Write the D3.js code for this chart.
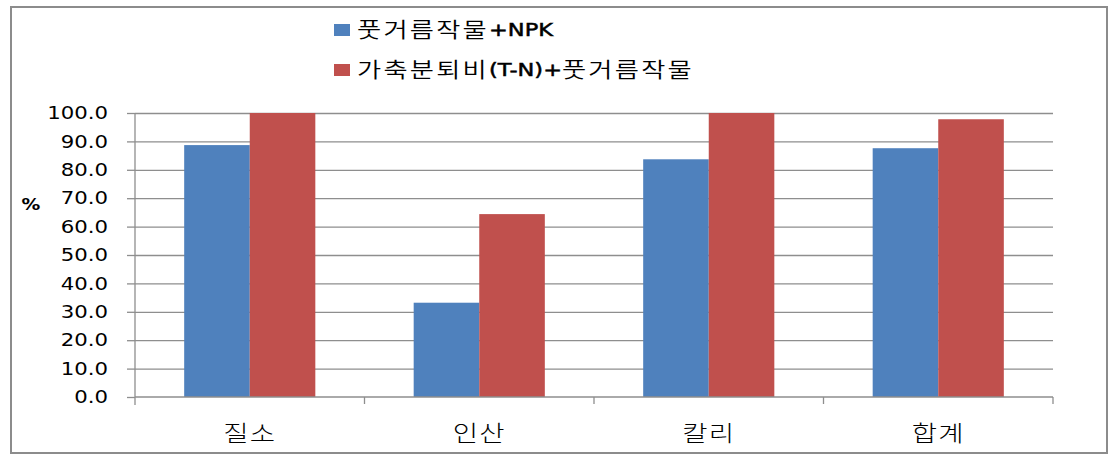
<!DOCTYPE html>
<html>
<head>
<meta charset="utf-8">
<script src="https://cdn.jsdelivr.net/npm/d3@7"></script>
<style>
  body { margin: 0; background: #fff; }
  text { font-family: "DejaVu Sans", "Noto Sans CJK KR", sans-serif; fill: #000; }
</style>
</head>
<body>
<div id="chart"></div>
<script>
// data
const categories = ['질소', '인산', '칼리', '합계'];
const seriesNames = ['풋거름작물+NPK', '가축분퇴비(T-N)+풋거름작물'];
const greenNpk = [88.7, 33.2, 83.7, 87.6];
const manureGreen = [100.0, 64.4, 100.0, 97.8];
const yTicks = [0, 10, 20, 30, 40, 50, 60, 70, 80, 90, 100];
const colors = ['#4F81BD', '#C0504D'];

const W = 1117, H = 470;
const margin = { top: 113, right: 64, bottom: 73, left: 135 },
  width = W - margin.left - margin.right,
  height = H - margin.top - margin.bottom;
const sx = 1.25; // picture text is stretched horizontally

const svgRoot = d3.select('#chart').append('svg')
  .attr('width', W).attr('height', H);

// outer chart border
svgRoot.append('rect')
  .attr('x', 11).attr('y', 7).attr('width', 1096).attr('height', 446)
  .attr('fill', 'none').attr('stroke', '#8c8c8c').attr('stroke-width', 2);

const svg = svgRoot.append('g')
  .attr('transform', 'translate(' + margin.left + ',' + margin.top + ')');

const x0 = d3.scaleBand().domain(categories).range([0, width]).padding(0);
const x1 = d3.scaleBand().domain([0, 1]).range([0, x0.bandwidth()])
  .paddingInner(0).paddingOuter(0.75);
const y = d3.scaleLinear().domain([0, 100]).range([height, 0]);

// gridlines
svg.append('g')
  .call(d3.axisRight(y).tickValues(yTicks.slice(1)).tickSize(width).tickFormat(''))
  .call(g => g.select('.domain').remove())
  .call(g => g.selectAll('line').attr('stroke', '#8e8e8e').attr('stroke-width', 1.3));

// bars
const rows = categories.map((c, i) => ({ cat: c, vals: [greenNpk[i], manureGreen[i]] }));
svg.selectAll('.grp')
  .data(rows)
  .enter()
  .append('g')
  .attr('transform', d => 'translate(' + x0(d.cat) + ',0)')
  .selectAll('rect')
  .data(d => d.vals.map((v, k) => ({ k: k, v: v })))
  .enter()
  .append('rect')
  .attr('x', d => x1(d.k))
  .attr('y', d => y(d.v))
  .attr('width', x1.bandwidth())
  .attr('height', d => height - y(d.v))
  .attr('fill', d => colors[d.k]);

// y axis
const yAxis = svg.append('g')
  .call(d3.axisLeft(y).tickValues(yTicks).tickSize(8).tickFormat(d3.format('.1f')));
yAxis.select('.domain').attr('stroke', '#8e8e8e').attr('stroke-width', 1.3)
  .attr('d', 'M0,0V' + (height + 8));
yAxis.selectAll('line').attr('stroke', '#8e8e8e').attr('stroke-width', 1.3);
yAxis.selectAll('text')
  .attr('x', null).attr('dy', null)
  .attr('font-size', 17)
  .attr('text-anchor', 'end')
  .attr('dominant-baseline', 'central')
  .attr('transform', 'translate(-27,0) scale(' + sx + ',1)');

// x axis line and boundary ticks
const bounds = categories.map(c => x0(c)).concat([width]);
svg.append('line')
  .attr('x1', 0).attr('x2', width).attr('y1', height).attr('y2', height)
  .attr('stroke', '#8e8e8e').attr('stroke-width', 1.3);
svg.selectAll('.xt')
  .data(bounds.slice(1))
  .enter()
  .append('line')
  .attr('x1', d => d).attr('x2', d => d)
  .attr('y1', height).attr('y2', height + 7)
  .attr('stroke', '#8e8e8e').attr('stroke-width', 1.3);

svg.selectAll('.xl')
  .data(categories)
  .enter()
  .append('text')
  .attr('transform', d => 'translate(' + (x0(d) + x0.bandwidth() / 2) + ',' + (height + 44) + ') scale(' + sx + ',1)')
  .attr('text-anchor', 'middle')
  .attr('font-size', 22)
  .attr('font-weight', 300)
  .attr('letter-spacing', 1)
  .text(d => d);

// y label
svgRoot.append('text')
  .attr('transform', 'translate(31,205) scale(' + sx + ',1)')
  .attr('text-anchor', 'middle')
  .attr('dominant-baseline', 'central')
  .attr('font-size', 15)
  .attr('font-weight', 'bold')
  .text('%');

// legend
const isLatin = s => /[A-Za-z()+\-]/.test(s);
const legend = svgRoot.selectAll('.lg')
  .data(seriesNames)
  .enter()
  .append('g')
  .attr('transform', (d, i) => 'translate(334,' + (30 + i * 40) + ')');
legend.append('rect')
  .attr('x', 0).attr('y', -6).attr('width', 16).attr('height', 12)
  .attr('fill', (d, i) => colors[i]);
legend.append('text')
  .attr('transform', 'translate(23,0) scale(' + sx + ',1)')
  .attr('dominant-baseline', 'central')
  .attr('font-size', 21)
  .selectAll('tspan')
  .data(d => d.match(/[A-Za-z()+\-]+|[^A-Za-z()+\-]+/g))
  .enter()
  .append('tspan')
  .attr('dominant-baseline', 'central')
  .attr('font-weight', d => isLatin(d) ? 'normal' : 350)
  .attr('font-size', d => isLatin(d) ? 18 : null)
  .attr('stroke', d => isLatin(d) ? '#000' : null)
  .attr('stroke-width', d => isLatin(d) ? 0.5 : null)
  .attr('letter-spacing', d => isLatin(d) ? 0 : 1.8)
  .text(d => d);
</script>
</body>
</html>
